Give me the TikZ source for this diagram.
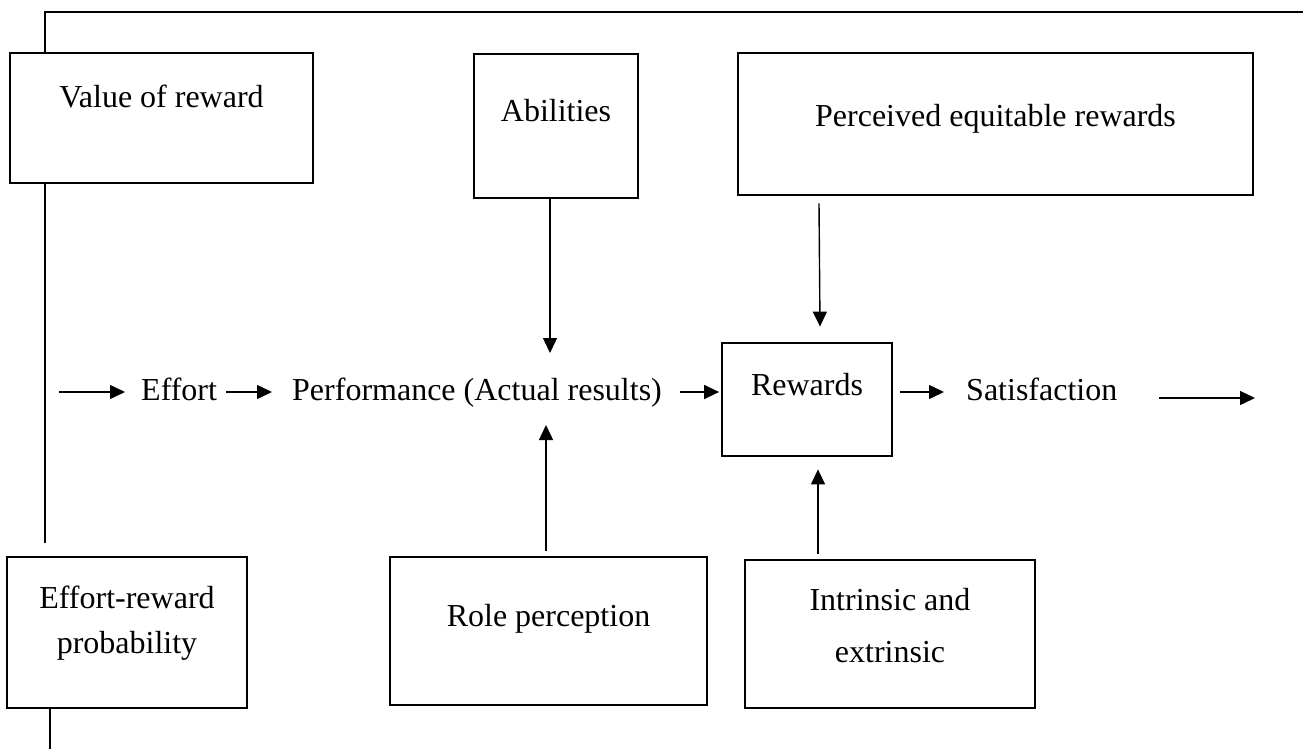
\documentclass[tikz,border=0pt]{standalone}
\usepackage{fontspec}
\setmainfont{Liberation Serif}
\usetikzlibrary{arrows.meta}
\begin{document}
\begin{tikzpicture}[x=1pt,y=-1pt,
  box/.style={draw, line width=2.8pt, minimum width=#1, inner sep=0pt},
  lbl/.style={anchor=base, inner sep=0pt, font=\fontsize{32}{38}\selectfont},
  rowtxt/.style={anchor=base west, inner sep=0pt, font=\fontsize{32}{38}\selectfont},
  conn/.style={line width=1.4pt, -{Triangle[length=15pt,width=14pt]}},
  wire/.style={line width=1.3pt}]
\useasboundingbox (0,0) rectangle (1303,749);

% boxes
\node[box=303pt, minimum height=130pt] (value)   at (161.5,118) {};
\node[box=164pt, minimum height=144pt] (abil)    at (556,126)   {};
\node[box=515pt, minimum height=142pt] (perc)    at (995.5,124) {};
\node[box=170pt, minimum height=113pt] (rewards) at (807,399.5) {};
\node[box=240pt, minimum height=151pt] (erp)     at (127,632.5) {};
\node[box=317pt, minimum height=148pt] (role)    at (548.5,631) {};
\node[box=290pt, minimum height=148pt] (intr)    at (890,634)   {};

% box labels
\node[lbl] (valueT)  at (161.5,108) {Value of reward};
\node[lbl] (abilT)   at (556,122)   {Abilities};
\node[lbl] (percT)   at (995.5,127) {Perceived equitable rewards};
\node[lbl] (rewT)    at (807,395)   {Rewards};
\node[lbl] (erpT1)   at (127,608)   {Effort-reward};
\node[lbl] (erpT2)   at (127,653)   {probability};
\node[lbl] (roleT)   at (548.5,626) {Role perception};
\node[lbl] (intrT1)  at (890,610)   {Intrinsic and};
\node[lbl] (intrT2)  at (890,662)   {extrinsic};

% main row
\node[rowtxt] (effort) at (141,400) {Effort};
\node[rowtxt] (perf)   at (292,400) {Performance (Actual results)};
\node[rowtxt] (sat)    at (966,400) {Satisfaction};

% free ends
\coordinate (topR)    at (1303,12);
\coordinate (corner)  at (45,12);
\coordinate (leftEnd) at (45,543);
\coordinate (botEnd)  at (50,749);
\coordinate (in0)     at (59,392);
\coordinate (out0)    at (1255,398);
\coordinate (abilTip) at (550,353);
\coordinate (roleTip) at (546,425);

% feedback wiring on the left
\draw[wire] (topR) -- (corner) -- (value.north -| corner);
\draw[wire] (value.south -| corner) -- (leftEnd);
\draw[wire] (erp.south -| botEnd) -- (botEnd);

% row arrows
\draw[conn] (in0) -- ([shift={(-16,-8)}]effort.base west);
\draw[conn] ([shift={(9,-8)}]effort.base east) -- ([shift={(-20,-8)}]perf.base west);
\draw[conn] ([shift={(18,-8)}]perf.base east) -- ([shift={(-1.5,-7.5)}]rewards.west);
\draw[conn] ([shift={(7,-7.5)}]rewards.east) -- ([shift={(-22,-8)}]sat.base west);
\draw[conn] ([shift={(42,-2)}]sat.base east) -- (out0);

% vertical arrows
\draw[conn] ([xshift=-6pt]abil.south) -- (abilTip);
\draw[conn] ([shift={(-2.5,-5)}]role.north) -- (roleTip);
\draw[conn] ([shift={(-176.5,7)}]perc.south) -- ([shift={(13,-15)}]rewards.north);
\draw[conn] ([shift={(-72,-5)}]intr.north) -- ([shift={(11,12)}]rewards.south);
\end{tikzpicture}
\end{document}
